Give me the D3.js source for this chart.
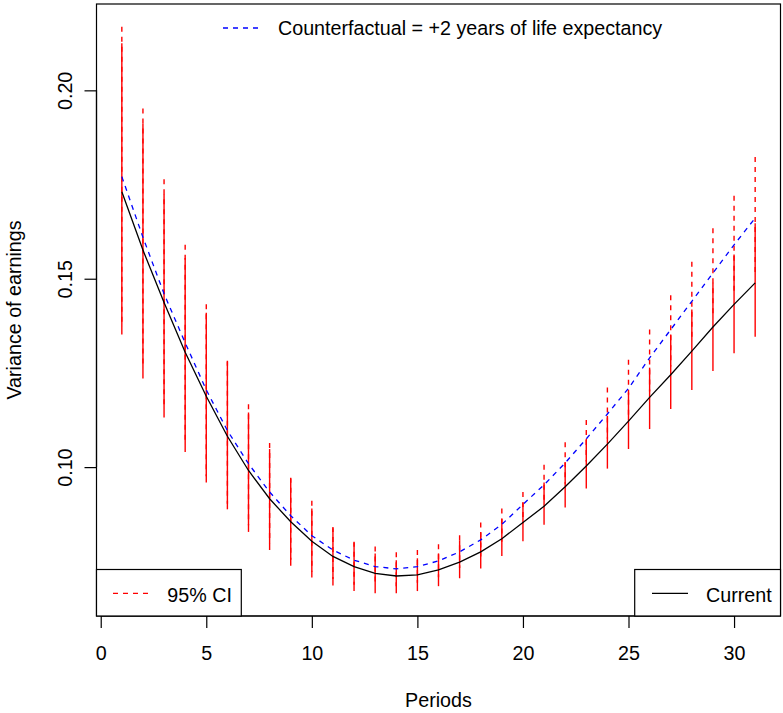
<!DOCTYPE html>
<html>
<head>
<meta charset="utf-8">
<script src="https://cdn.jsdelivr.net/npm/d3@7"></script>
<style>
  html, body { margin: 0; padding: 0; background: #fff; }
  svg { display: block; }
  text { font-family: "Liberation Sans", Arial, Helvetica, sans-serif; fill: #000; }
</style>
</head>
<body>
<svg id="chart" width="783" height="713"></svg>
<script>
const periods = d3.range(1, 32);
const current = [0.1731, 0.1576, 0.1437, 0.1305, 0.1188, 0.1082, 0.0991, 0.0916, 0.0855, 0.0803,
  0.0763, 0.0736, 0.0718, 0.0711, 0.0714, 0.0727, 0.0748, 0.0775, 0.0810, 0.0853,
  0.0896, 0.0948, 0.1003, 0.1061, 0.1122, 0.1185, 0.1245, 0.1308, 0.1372, 0.1432, 0.1489];
const counterfactual = [0.1771, 0.1610, 0.1460, 0.1330, 0.1205, 0.1097, 0.1009, 0.0934, 0.0871, 0.0818,
  0.0780, 0.0753, 0.0736, 0.0730, 0.0736, 0.0751, 0.0775, 0.0807, 0.0848, 0.0901,
  0.0953, 0.1011, 0.1075, 0.1141, 0.1209, 0.1290, 0.1365, 0.1440, 0.1515, 0.1590, 0.1661];
const currentLower = [0.1352, 0.1235, 0.1132, 0.1040, 0.0959, 0.0888, 0.0828, 0.0780, 0.0738, 0.0707,
  0.0686, 0.0671, 0.0665, 0.0665, 0.0671, 0.0684, 0.0705, 0.0731, 0.0764, 0.0803,
  0.0847, 0.0893, 0.0943, 0.0996, 0.1048, 0.1101, 0.1154, 0.1205, 0.1255, 0.1302, 0.1346];
const currentUpper = [0.2125, 0.1912, 0.1725, 0.1555, 0.1410, 0.1280, 0.1145, 0.1048, 0.0970, 0.0890,
  0.0838, 0.0800, 0.0771, 0.0753, 0.0758, 0.0771, 0.0806, 0.0828, 0.0863, 0.0905,
  0.0959, 0.1013, 0.1075, 0.1136, 0.1198, 0.1264, 0.1352, 0.1418, 0.1489, 0.1564, 0.1647];
const cfLower = [0.1380, 0.1272, 0.1157, 0.1065, 0.0976, 0.0903, 0.0846, 0.0798, 0.0754, 0.0722,
  0.0703, 0.0688, 0.0683, 0.0684, 0.0693, 0.0708, 0.0732, 0.0763, 0.0802, 0.0851,
  0.0902, 0.0956, 0.1015, 0.1076, 0.1135, 0.1201, 0.1267, 0.1337, 0.1400, 0.1459, 0.1517];
const cfUpper = [0.2169, 0.1952, 0.1764, 0.1590, 0.1432, 0.1282, 0.1167, 0.1064, 0.0972, 0.0911,
  0.0841, 0.0802, 0.0789, 0.0774, 0.0780, 0.0795, 0.0819, 0.0853, 0.0890, 0.0934,
  0.1006, 0.1066, 0.1125, 0.1211, 0.1285, 0.1365, 0.1456, 0.1545, 0.1634, 0.1720, 0.1823];
const xTicks = [0, 5, 10, 15, 20, 25, 30];
const yTicks = [0.10, 0.15, 0.20];
const yTickLabels = ["0.10", "0.15", "0.20"];
const xLabel = "Periods";
const yLabel = "Variance of earnings";
const legendTop = "Counterfactual = +2 years of life expectancy";
const legendCI = "95% CI";
const legendCurrent = "Current";

const svg = d3.select("#chart");
const plot = { left: 96.5, right: 780.5, top: 4, bottom: 616 };
const FS = 19.7;

// R-style 4% axis extension
const xExt = d3.extent(periods);
const xPad = (xExt[1] - xExt[0]) * 0.04;
const allY = [].concat(current, counterfactual, currentLower, currentUpper, cfLower, cfUpper);
const yExt = d3.extent(allY);
const yPad = (yExt[1] - yExt[0]) * 0.04;

const x = d3.scaleLinear().domain([xExt[0] - xPad, xExt[1] + xPad]).range([plot.left, plot.right]);
const y = d3.scaleLinear().domain([yExt[0] - yPad, yExt[1] + yPad]).range([plot.bottom, plot.top]);

const g = svg.append("g");

// CI segments: current (solid), counterfactual (dashed)
g.selectAll("line.ciCur").data(periods).enter().append("line")
  .attr("x1", (d) => x(d)).attr("x2", (d) => x(d))
  .attr("y1", (d, i) => y(currentLower[i])).attr("y2", (d, i) => y(currentUpper[i]))
  .attr("stroke", "#ff0000").attr("stroke-width", 1.4);
g.selectAll("line.ciCf").data(periods).enter().append("line")
  .attr("x1", (d) => x(d)).attr("x2", (d) => x(d))
  .attr("y1", (d, i) => y(cfUpper[i])).attr("y2", (d, i) => y(cfLower[i]))
  .attr("stroke", "#ff0000").attr("stroke-width", 1.4).attr("stroke-dasharray", "5,5");

const line = d3.line().x((d) => x(d[0])).y((d) => y(d[1]));
g.append("path").datum(periods.map((p, i) => [p, current[i]]))
  .attr("d", line).attr("fill", "none").attr("stroke", "#000").attr("stroke-width", 1.3);
g.append("path").datum(periods.map((p, i) => [p, counterfactual[i]]))
  .attr("d", line).attr("fill", "none").attr("stroke", "#0000ff").attr("stroke-width", 1.3)
  .attr("stroke-dasharray", "5,5");

// Plot box
svg.append("rect").attr("x", plot.left).attr("y", plot.top)
  .attr("width", plot.right - plot.left).attr("height", plot.bottom - plot.top)
  .attr("fill", "none").attr("stroke", "#000").attr("stroke-width", 1.2);

// X axis
const xAxis = d3.axisBottom(x).tickValues(xTicks).tickSize(12).tickPadding(0).tickFormat(d3.format("d"));
const xa = svg.append("g").attr("transform", `translate(0,${plot.bottom})`).call(xAxis);
xa.select(".domain").attr("d", `M${x(xTicks[0])},0H${x(xTicks[xTicks.length - 1])}`).attr("stroke-width", 1.2);
xa.selectAll(".tick line").attr("stroke-width", 1.2);
xa.selectAll(".tick text").attr("font-size", FS).attr("y", 44).attr("dy", 0)
  .style("font-family", "Liberation Sans, Arial, sans-serif").attr("fill", "#000");

// Y axis
const yAxis = d3.axisLeft(y).tickValues(yTicks).tickSize(12).tickFormat((d, i) => yTickLabels[i]);
const ya = svg.append("g").attr("transform", `translate(${plot.left},0)`).call(yAxis);
ya.select(".domain").attr("d", `M0,${y(yTicks[0])}V${y(yTicks[yTicks.length - 1])}`).attr("stroke-width", 1.2);
ya.selectAll(".tick line").attr("stroke-width", 1.2);
ya.selectAll(".tick text").attr("font-size", FS)
  .attr("x", null).attr("dy", null)
  .attr("text-anchor", "middle")
  .attr("transform", `translate(${71.7 - plot.left},0) rotate(-90)`)
  .style("font-family", "Liberation Sans, Arial, sans-serif").attr("fill", "#000");
svg.selectAll(".domain, .tick line").attr("stroke", "#000");

// Axis titles
svg.append("text").attr("x", (plot.left + plot.right) / 2).attr("y", 707)
  .attr("text-anchor", "middle").attr("font-size", FS).text(xLabel);
svg.append("text").attr("transform", `translate(21,${(plot.top + plot.bottom) / 2}) rotate(-90)`)
  .attr("text-anchor", "middle").attr("font-size", FS).text(yLabel);

// Top legend (no box)
svg.append("line").attr("x1", 223).attr("x2", 258).attr("y1", 28).attr("y2", 28)
  .attr("stroke", "#0000ff").attr("stroke-width", 1.3).attr("stroke-dasharray", "5,5");
svg.append("text").attr("x", 278).attr("y", 35).attr("font-size", FS).text(legendTop);

// Bottom-left legend
svg.append("rect").attr("x", plot.left).attr("y", 569.5).attr("width", 241.3 - plot.left).attr("height", plot.bottom - 569.5)
  .attr("fill", "#fff").attr("stroke", "#000").attr("stroke-width", 1.2);
svg.append("line").attr("x1", 113).attr("x2", 148).attr("y1", 593.3).attr("y2", 593.3)
  .attr("stroke", "#ff0000").attr("stroke-width", 1.3).attr("stroke-dasharray", "5,5");
svg.append("text").attr("x", 167.3).attr("y", 601.5).attr("font-size", FS).text(legendCI);

// Bottom-right legend
svg.append("rect").attr("x", 634.7).attr("y", 569.5).attr("width", plot.right - 634.7).attr("height", plot.bottom - 569.5)
  .attr("fill", "#fff").attr("stroke", "#000").attr("stroke-width", 1.2);
svg.append("line").attr("x1", 652).attr("x2", 688).attr("y1", 593.3).attr("y2", 593.3)
  .attr("stroke", "#000").attr("stroke-width", 1.3);
svg.append("text").attr("x", 706).attr("y", 601.5).attr("font-size", FS).text(legendCurrent);
</script>
</body>
</html>
